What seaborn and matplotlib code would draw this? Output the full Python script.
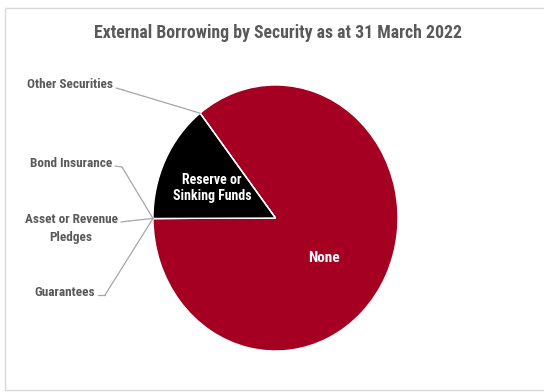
import matplotlib
matplotlib.use("Agg")
import matplotlib.pyplot as plt
from matplotlib import font_manager
from matplotlib.font_manager import FontProperties
from matplotlib.patches import Rectangle
from matplotlib.lines import Line2D
import numpy as np
import seaborn as sns

# Borrowing by type of security (% of external borrowing)
categories = ["None", "Guarantees", "Asset or Revenue\nPledges", "Bond Insurance",
              "Reserve or\nSinking Funds", "Other Securities"]
shares = [85.5, 0.0, 0.0, 0.0, 14.5, 0.0]
colors = ["#A50021", "#A50021", "#A50021", "#A50021", "#000000", "#A50021"]
title = "External Borrowing by Security as at 31 March 2022"

sns.set_theme(style="white")


def bold_narrow_face():
    """Pick a bold condensed sans face if one is installed."""
    best = None
    for f in font_manager.fontManager.ttflist:
        name = f.name
        narrow = ("Narrow" in name or "Condensed" in name
                  or f.stretch in ("condensed", "semi-condensed", 500))
        if not narrow:
            continue
        w = f.weight if isinstance(f.weight, int) else {"bold": 700}.get(f.weight, 400)
        if w < 600 or "italic" in f.style or "oblique" in f.style:
            continue
        rank = 0 if "Liberation" in name else 1 if "Roboto" in name else 2
        if best is None or rank < best[0]:
            best = (rank, f.fname)
    return best[1] if best else None


narrow_file = bold_narrow_face()
plt.rcParams["font.family"] = ["Liberation Sans", "DejaVu Sans"]
if narrow_file:
    font = lambda size: FontProperties(fname=narrow_file, size=size)
    sizes = dict(title=12.8, outer=9.5, inner=10.0, none=11.0)
else:
    font = lambda size: FontProperties(family=["Liberation Sans", "DejaVu Sans"],
                                       weight="bold", size=size)
    sizes = dict(title=10.8, outer=8.0, inner=8.3, none=9.5)

W, H = 544, 392
fig = plt.figure(figsize=(W / 100, H / 100), dpi=100)
fig.patch.set_facecolor("white")


def fx(px):
    return px / W


def fy(py):
    return 1 - py / H


# chart frame
fig.patches.append(Rectangle((fx(4.5), fy(390)), 1.2, fy(7.5) - fy(390),
                             transform=fig.transFigure, fill=False,
                             edgecolor="#d9d9d9", linewidth=1.0))

ax = fig.add_axes([fx(153), fy(351), fx(398) - fx(153), fy(85) - fy(351)])
wedges, _ = ax.pie(shares, colors=colors, startangle=128, counterclock=False,
                   wedgeprops=dict(edgecolor="white", linewidth=1.0))
ax.set_aspect("auto")
ax.set_xlim(-1, 1)
ax.set_ylim(-1, 1)
ax.axis("off")

# inside labels
fig.text(fx(324), fy(258), "None", ha="center", va="center", color="white",
         fontproperties=font(sizes["none"]))
fig.text(fx(212), fy(188), "Reserve or\nSinking Funds", ha="center", va="center",
         color="white", fontproperties=font(sizes["inner"]), linespacing=1.1)

fig.text(fx(278), fy(33), title, ha="center", va="center", color="#595959",
         fontproperties=font(sizes["title"]))

# outside labels with leader lines: (text right x, text y, stub start, stub end)
outer = {
    "Other Securities": (113, 85, (116, 88), (123, 90)),
    "Bond Insurance": (112, 163, (115, 166), (122, 167)),
    "Asset or Revenue\nPledges": (118, 220, (121, 222), (129, 221)),
    "Guarantees": (95, 292, (98, 295), (105, 295)),
}
for w, name in zip(wedges, categories):
    if name not in outer:
        continue
    tx, ty, s0, s1 = outer[name]
    if "\n" in name:
        first, second = name.split("\n")
        fig.text(fx(tx), fy(ty), first, ha="right", va="center", color="#595959",
                 fontproperties=font(sizes["outer"]))
        fig.text(fx(71), fy(ty + 17), second, ha="center", va="center", color="#595959",
                 fontproperties=font(sizes["outer"]))
    else:
        fig.text(fx(tx), fy(ty), name, ha="right", va="center", color="#595959",
                 fontproperties=font(sizes["outer"]))
    ang = np.deg2rad((w.theta1 + w.theta2) / 2)
    xy = (np.cos(ang), np.sin(ang))
    fig.lines.append(Line2D([fx(s0[0]), fx(s1[0])], [fy(s0[1]), fy(s1[1])],
                            transform=fig.transFigure, color="#a6a6a6", linewidth=0.9))
    ax.annotate("", xy=xy, xycoords="data", xytext=(fx(s1[0]), fy(s1[1])),
                textcoords="figure fraction",
                arrowprops=dict(arrowstyle="-", color="#a6a6a6", linewidth=0.9,
                                shrinkA=0, shrinkB=0))

fig.savefig("out.png", dpi=100, facecolor="white")
